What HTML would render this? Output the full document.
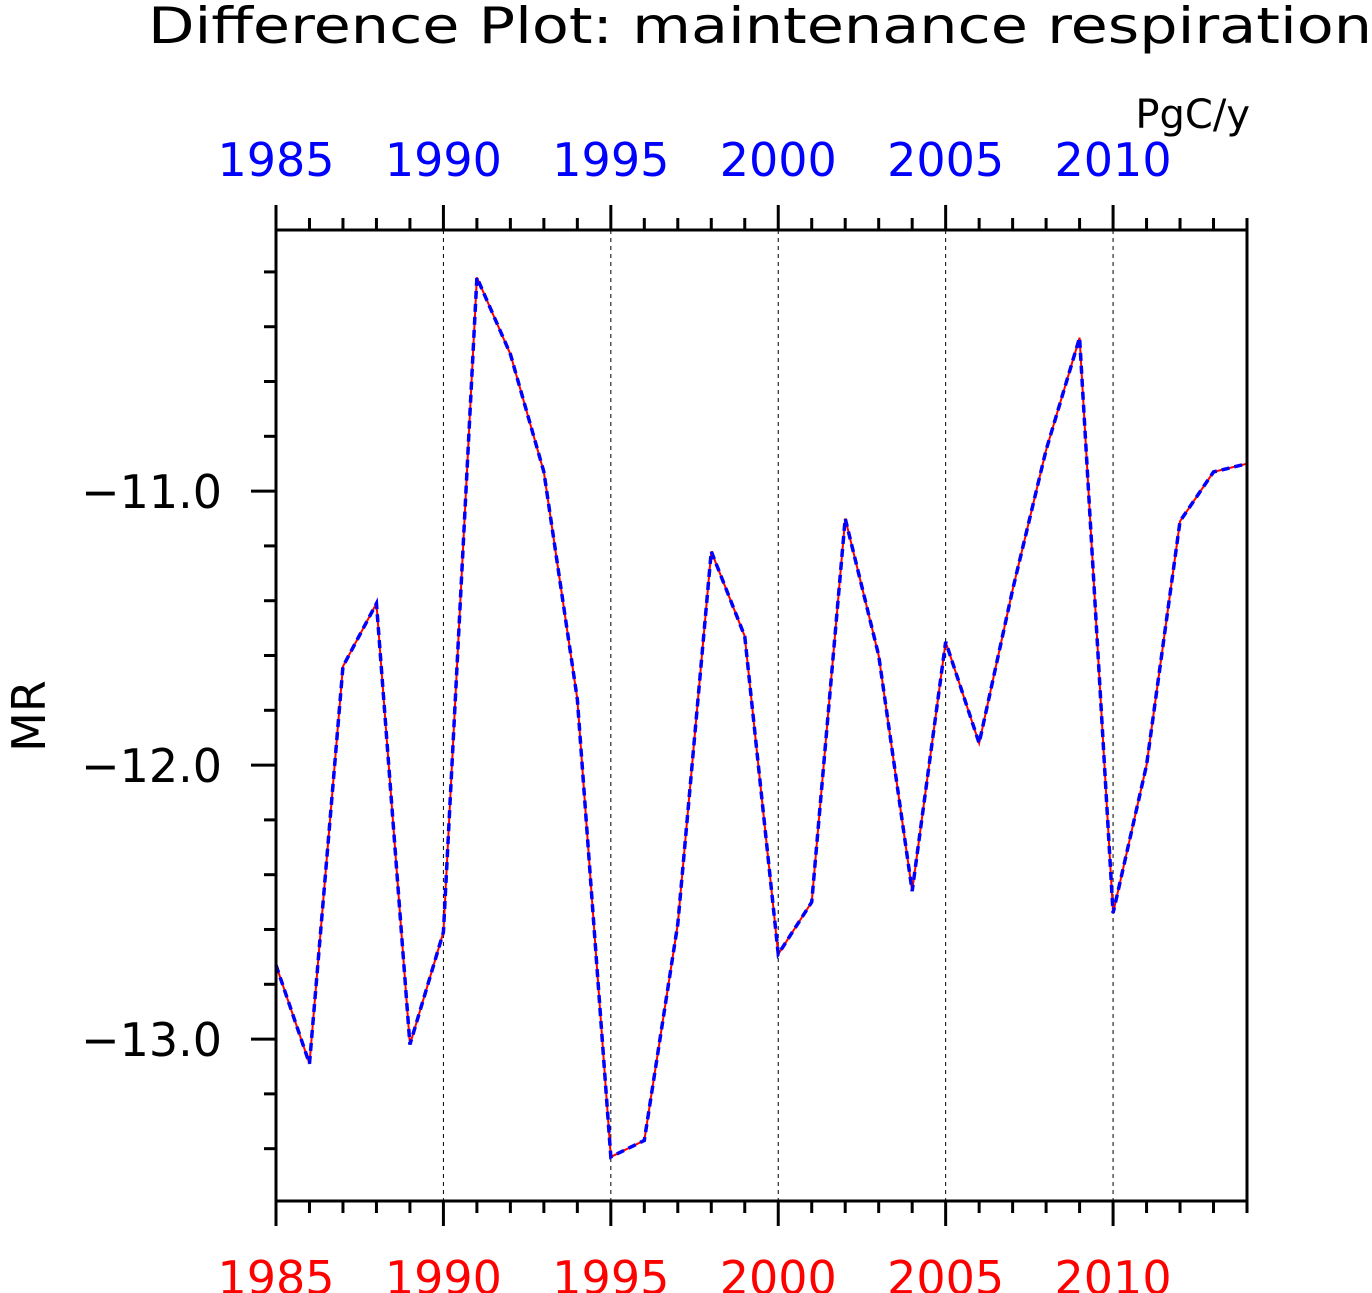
<!DOCTYPE html>
<html><head><meta charset="utf-8"><style>
body{margin:0;background:#fff;}
svg{display:block;font-family:"DejaVu Sans","Liberation Sans",sans-serif;}
</style></head><body>
<svg id="chart" width="1372" height="1293" viewBox="0 0 1372 1293" xmlns="http://www.w3.org/2000/svg">
<text x="148" y="43" font-size="50" fill="#000" textLength="1224" lengthAdjust="spacingAndGlyphs">Difference Plot: maintenance respiration</text>
<text x="1250" y="128" font-size="40" text-anchor="end" fill="#000">PgC/y</text>
<text x="45" y="716" font-size="46" text-anchor="middle" fill="#000" transform="rotate(-90 45 716)">MR</text>
<g id="grid"></g>
<g id="axes"></g>
<g id="series"></g>
<rect x="276" y="230" width="971" height="971" fill="none" stroke="#000" stroke-width="3"/>
</svg>
<script>
const years=[1985,1986,1987,1988,1989,1990,1991,1992,1993,1994,1995,1996,1997,1998,1999,2000,2001,2002,2003,2004,2005,2006,2007,2008,2009,2010,2011,2012,2013,2014];
const seriesA=[-12.73,-13.09,-11.64,-11.41,-13.02,-12.61,-10.22,-10.50,-10.93,-11.76,-13.43,-13.37,-12.58,-11.22,-11.53,-12.69,-12.50,-11.10,-11.60,-12.46,-11.55,-11.92,-11.36,-10.85,-10.44,-12.54,-12.00,-11.11,-10.93,-10.90];
const seriesB=seriesA.slice();
const xTickLabels=[1985,1990,1995,2000,2005,2010];
const yTickLabels=[-11.0,-12.0,-13.0];
const X0=276,X1=1247,Y0=230,Y1=1201,xmin=1985,xmax=2014,ymax=-10.047,ymin=-13.591;
const sx=v=>X0+(v-xmin)/(xmax-xmin)*(X1-X0);
const sy=v=>Y0+(ymax-v)/(ymax-ymin)*(Y1-Y0);
const NS="http://www.w3.org/2000/svg";
function mk(t,a,p){const e=document.createElementNS(NS,t);for(const k in a)e.setAttribute(k,a[k]);p.appendChild(e);return e;}
const grid=document.getElementById('grid'),axes=document.getElementById('axes'),ser=document.getElementById('series');
xTickLabels.forEach(y=>{
 const x=sx(y);
 if(y>xmin){const l=mk('line',{x1:x,x2:x,y1:Y0,y2:Y1,stroke:'#000','stroke-width':1,'stroke-dasharray':'4,4'},grid);
 
 }
 const t1=mk('text',{x:x,y:1294,'font-size':46,'text-anchor':'middle',fill:'#ff0000'},axes);t1.textContent=y;
 
 
 const t2=mk('text',{x:x,y:176,'font-size':46,'text-anchor':'middle',fill:'#0000ff'},axes);t2.textContent=y;
 
 
});
for(let y=xmin;y<=xmax;y++){
 const x=sx(y),maj=(y%5===0),L=maj?25:12;
 mk('line',{x1:x,x2:x,y1:Y0,y2:Y0-L,stroke:'#000','stroke-width':3},axes);
 mk('line',{x1:x,x2:x,y1:Y1,y2:Y1+L,stroke:'#000','stroke-width':3},axes);
}
for(let i=0;i<=17;i++){
 const v=-10.2-0.2*i; if(v<ymin-0.001)break;
 const maj=Math.abs(v*10-Math.round(v)*10)<0.01;
 const y=sy(v);
 mk('line',{x1:X0,x2:X0-(maj?25:12),y1:y,y2:y,stroke:'#000','stroke-width':3},axes);
}
yTickLabels.forEach(v=>{
 const t=mk('text',{x:222,y:sy(v)+17,'font-size':46,'text-anchor':'end',fill:'#000'},axes);t.textContent='\u2212'+Math.abs(v).toFixed(1);
 
 
});
const pa=years.map((y,i)=>sx(y)+','+sy(seriesA[i])).join(' ');
const pb=years.map((y,i)=>sx(y)+','+sy(seriesB[i])).join(' ');
const la=mk('polyline',{points:pa,fill:'none',stroke:'#ff0000','stroke-width':2},ser);


const lb=mk('polyline',{points:pb,fill:'none',stroke:'#0000ff','stroke-width':3.5,'stroke-dasharray':'8,5'},ser);


</script>
</body></html>
